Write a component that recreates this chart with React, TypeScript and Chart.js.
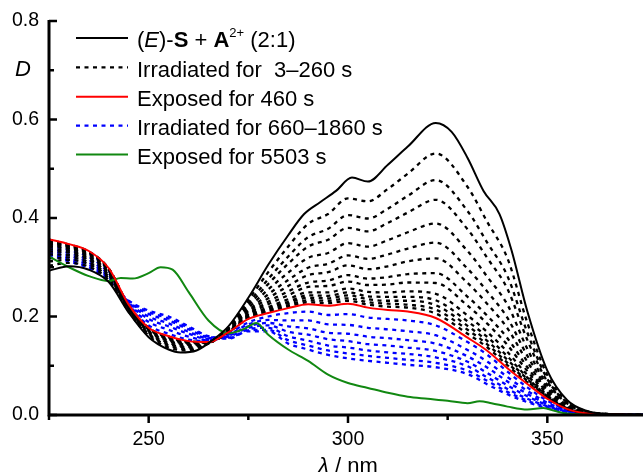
import { useEffect, useRef } from 'react';
import { Chart, registerables } from 'chart.js';

Chart.register(...registerables);

// ---------- data ----------
// shared wavelength grid (nm) for the dotted series and the red series
const WL = [225, 230, 235, 240, 245, 250, 255, 260, 265, 270, 275, 280, 285, 290, 295, 300, 305, 310, 315, 322, 330, 335, 340, 345, 350, 355, 360, 365, 375];

// (E)-S + A2+ (2:1) — initial spectrum
const INIT_WL = [225, 230, 235, 240, 245, 250, 255, 258, 262, 266, 270, 275, 280, 285, 289, 293, 297, 301, 305, 310, 315, 322, 326, 330, 334, 338, 341, 345, 350, 355, 360, 365, 375];
const INIT_D = [0.293, 0.302, 0.295, 0.270, 0.208, 0.158, 0.133, 0.127, 0.131, 0.152, 0.180, 0.238, 0.305, 0.365, 0.408, 0.432, 0.455, 0.482, 0.474, 0.508, 0.545, 0.593, 0.575, 0.522, 0.455, 0.408, 0.335, 0.210, 0.090, 0.030, 0.008, 0.002, 0];

// Irradiated for 3–260 s (black dotted)
const IRR_A1 = [0.303, 0.309, 0.301, 0.274, 0.210, 0.161, 0.137, 0.131, 0.145, 0.178, 0.233, 0.290, 0.342, 0.388, 0.408, 0.440, 0.434, 0.459, 0.490, 0.531, 0.463, 0.391, 0.318, 0.187, 0.081, 0.027, 0.007, 0.002, 0];
const IRR_A2 = [0.312, 0.315, 0.306, 0.278, 0.212, 0.164, 0.141, 0.134, 0.146, 0.176, 0.227, 0.276, 0.322, 0.361, 0.378, 0.406, 0.399, 0.419, 0.445, 0.477, 0.414, 0.349, 0.282, 0.167, 0.073, 0.025, 0.007, 0.002, 0];
const IRR_A3 = [0.318, 0.320, 0.310, 0.281, 0.214, 0.165, 0.144, 0.137, 0.146, 0.175, 0.222, 0.266, 0.307, 0.342, 0.356, 0.380, 0.373, 0.390, 0.411, 0.437, 0.377, 0.318, 0.256, 0.152, 0.068, 0.023, 0.006, 0.002, 0];
const IRR_A4 = [0.326, 0.325, 0.315, 0.284, 0.215, 0.168, 0.147, 0.139, 0.147, 0.174, 0.217, 0.255, 0.289, 0.319, 0.329, 0.349, 0.342, 0.355, 0.371, 0.389, 0.333, 0.280, 0.224, 0.134, 0.061, 0.021, 0.005, 0.001, 0];
const IRR_A5 = [0.332, 0.330, 0.318, 0.287, 0.217, 0.170, 0.150, 0.142, 0.147, 0.173, 0.212, 0.245, 0.274, 0.299, 0.307, 0.324, 0.317, 0.326, 0.338, 0.350, 0.297, 0.250, 0.197, 0.120, 0.055, 0.019, 0.005, 0.001, 0];
const IRR_A6 = [0.337, 0.333, 0.321, 0.289, 0.218, 0.171, 0.152, 0.143, 0.147, 0.172, 0.209, 0.237, 0.262, 0.284, 0.290, 0.304, 0.296, 0.302, 0.312, 0.318, 0.268, 0.225, 0.176, 0.108, 0.050, 0.018, 0.005, 0.001, 0];
const IRR_A7 = [0.342, 0.337, 0.324, 0.292, 0.219, 0.173, 0.154, 0.145, 0.147, 0.171, 0.205, 0.230, 0.251, 0.269, 0.273, 0.284, 0.277, 0.280, 0.286, 0.288, 0.240, 0.201, 0.156, 0.097, 0.046, 0.016, 0.004, 0.001, 0];
const IRR_A8 = [0.346, 0.339, 0.326, 0.293, 0.219, 0.174, 0.155, 0.146, 0.147, 0.170, 0.203, 0.225, 0.243, 0.260, 0.262, 0.271, 0.264, 0.265, 0.269, 0.268, 0.222, 0.185, 0.142, 0.089, 0.043, 0.015, 0.004, 0.001, 0];
const IRR_A9 = [0.349, 0.341, 0.328, 0.295, 0.220, 0.175, 0.157, 0.147, 0.148, 0.169, 0.201, 0.219, 0.235, 0.249, 0.249, 0.257, 0.250, 0.249, 0.251, 0.246, 0.202, 0.168, 0.128, 0.081, 0.040, 0.014, 0.004, 0.001, 0];
const IRR_A10 = [0.351, 0.343, 0.330, 0.295, 0.221, 0.175, 0.158, 0.148, 0.148, 0.169, 0.199, 0.216, 0.230, 0.243, 0.242, 0.249, 0.241, 0.240, 0.240, 0.233, 0.190, 0.158, 0.119, 0.076, 0.038, 0.014, 0.003, 0.001, 0];
const IRR_A11 = [0.353, 0.344, 0.330, 0.296, 0.221, 0.176, 0.158, 0.149, 0.148, 0.169, 0.198, 0.213, 0.227, 0.238, 0.237, 0.243, 0.235, 0.232, 0.232, 0.223, 0.181, 0.150, 0.112, 0.073, 0.037, 0.013, 0.003, 0.001, 0];
const IRR_A12 = [0.354, 0.345, 0.331, 0.297, 0.221, 0.176, 0.159, 0.149, 0.148, 0.169, 0.197, 0.211, 0.223, 0.233, 0.232, 0.237, 0.229, 0.226, 0.224, 0.214, 0.173, 0.143, 0.106, 0.069, 0.035, 0.013, 0.003, 0.001, 0];
const IRR_A13 = [0.356, 0.346, 0.332, 0.297, 0.222, 0.177, 0.159, 0.149, 0.148, 0.168, 0.196, 0.209, 0.220, 0.229, 0.227, 0.232, 0.224, 0.220, 0.218, 0.206, 0.165, 0.137, 0.101, 0.066, 0.034, 0.012, 0.003, 0.001, 0];

// Exposed for 460 s (red)
const EXP_460 = [0.357, 0.347, 0.333, 0.298, 0.224, 0.177, 0.160, 0.150, 0.148, 0.168, 0.195, 0.207, 0.217, 0.225, 0.222, 0.226, 0.218, 0.213, 0.210, 0.197, 0.157, 0.130, 0.095, 0.063, 0.033, 0.012, 0.003, 0.001, 0];

// Irradiated for 660–1860 s (blue dotted)
const IRR_B1 = [0.350, 0.342, 0.328, 0.293, 0.222, 0.182, 0.165, 0.153, 0.150, 0.165, 0.188, 0.200, 0.207, 0.210, 0.203, 0.205, 0.198, 0.195, 0.192, 0.182, 0.148, 0.122, 0.088, 0.056, 0.029, 0.011, 0.003, 0.001, 0];
const IRR_B2 = [0.344, 0.335, 0.321, 0.288, 0.224, 0.189, 0.173, 0.159, 0.152, 0.163, 0.184, 0.193, 0.192, 0.192, 0.184, 0.183, 0.177, 0.174, 0.170, 0.162, 0.132, 0.108, 0.077, 0.049, 0.025, 0.010, 0.003, 0.001, 0];
const IRR_B3 = [0.339, 0.329, 0.315, 0.284, 0.226, 0.195, 0.180, 0.165, 0.154, 0.161, 0.180, 0.187, 0.180, 0.176, 0.167, 0.165, 0.159, 0.156, 0.152, 0.145, 0.119, 0.096, 0.068, 0.043, 0.022, 0.009, 0.003, 0.001, 0];
const IRR_B4 = [0.335, 0.324, 0.310, 0.280, 0.228, 0.200, 0.186, 0.169, 0.156, 0.159, 0.177, 0.182, 0.169, 0.163, 0.154, 0.150, 0.144, 0.141, 0.137, 0.130, 0.108, 0.085, 0.060, 0.038, 0.020, 0.008, 0.002, 0.001, 0];
const IRR_B5 = [0.331, 0.319, 0.305, 0.277, 0.230, 0.205, 0.192, 0.174, 0.158, 0.157, 0.174, 0.177, 0.160, 0.151, 0.141, 0.137, 0.131, 0.127, 0.124, 0.117, 0.099, 0.076, 0.053, 0.033, 0.018, 0.007, 0.002, 0.001, 0];
const IRR_B6 = [0.328, 0.315, 0.301, 0.274, 0.231, 0.209, 0.196, 0.177, 0.159, 0.156, 0.172, 0.173, 0.152, 0.141, 0.131, 0.125, 0.120, 0.116, 0.112, 0.106, 0.090, 0.069, 0.047, 0.029, 0.016, 0.007, 0.002, 0.001, 0];
const IRR_B7 = [0.325, 0.312, 0.298, 0.272, 0.232, 0.212, 0.200, 0.180, 0.160, 0.155, 0.170, 0.170, 0.145, 0.133, 0.122, 0.115, 0.110, 0.106, 0.102, 0.097, 0.083, 0.062, 0.042, 0.026, 0.014, 0.006, 0.002, 0.001, 0];

// Exposed for 5503 s (green)
const EXP5503_WL = [225, 230, 235, 240, 243, 246, 250, 253, 256, 260, 265, 270, 274, 277, 280, 285, 290, 295, 300, 305, 310, 315, 320, 325, 330, 333, 336, 340, 345, 349, 352, 355, 360, 365, 375];
const EXP_5503 = [0.322, 0.300, 0.282, 0.272, 0.278, 0.277, 0.288, 0.300, 0.295, 0.250, 0.192, 0.166, 0.175, 0.187, 0.163, 0.133, 0.110, 0.082, 0.065, 0.055, 0.045, 0.037, 0.033, 0.029, 0.024, 0.028, 0.024, 0.017, 0.011, 0.014, 0.008, 0.003, 0.001, 0, 0];

const IRR_A = [IRR_A1, IRR_A2, IRR_A3, IRR_A4, IRR_A5, IRR_A6, IRR_A7, IRR_A8, IRR_A9, IRR_A10, IRR_A11, IRR_A12, IRR_A13];
const IRR_B = [IRR_B1, IRR_B2, IRR_B3, IRR_B4, IRR_B5, IRR_B6, IRR_B7];

const X_MIN = 225;
const X_MAX = 374;
const Y_MIN = 0;
const Y_MAX = 0.8;
const X_MAJOR = [250, 300, 350];
const X_MINOR = [225, 275, 325];
const Y_MAJOR = [0, 0.2, 0.4, 0.6, 0.8];
const Y_MINOR = [0.1, 0.3, 0.5, 0.7];

const BLACK = '#000000';
const RED = '#ff0000';
const BLUE = '#0000ff';
const GREEN = '#118811';
const FONT = '"Liberation Sans", Arial, Helvetica, sans-serif';

const pts = (xs: number[], ys: number[]) => xs.map((x, i) => ({ x, y: ys[i] }));

const DOT = [4, 4.5];

const LEGEND = [
  { color: BLACK, dash: [] as number[], rich: true, text: '' },
  { color: BLACK, dash: DOT, rich: false, text: 'Irradiated for  3\u2013260 s' },
  { color: RED, dash: [] as number[], rich: false, text: 'Exposed for 460 s' },
  { color: BLUE, dash: DOT, rich: false, text: 'Irradiated for 660\u20131860 s' },
  { color: GREEN, dash: [] as number[], rich: false, text: 'Exposed for 5503 s' },
];

const axesPlugin = {
  id: 'customAxes',
  afterDraw(chart: any) {
    const { ctx, chartArea: ca, scales } = chart;
    const xs = scales.x;
    const ys = scales.y;
    ctx.save();
    ctx.strokeStyle = '#000';
    ctx.fillStyle = '#000';
    ctx.lineCap = 'butt';

    // axis lines
    ctx.lineWidth = 3;
    ctx.beginPath();
    ctx.moveTo(ca.left, ys.getPixelForValue(Y_MAX) - 1);
    ctx.lineTo(ca.left, ca.bottom);
    ctx.lineTo(ca.right + 2, ca.bottom);
    ctx.stroke();

    // ticks
    ctx.lineWidth = 2.5;
    const seg = (x1: number, y1: number, x2: number, y2: number) => {
      ctx.beginPath();
      ctx.moveTo(x1, y1);
      ctx.lineTo(x2, y2);
      ctx.stroke();
    };
    Y_MAJOR.forEach((v) => {
      const py = ys.getPixelForValue(v);
      seg(ca.left, py, ca.left + 8, py);
    });
    Y_MINOR.forEach((v) => {
      const py = ys.getPixelForValue(v);
      seg(ca.left, py, ca.left + 5, py);
    });
    X_MAJOR.forEach((v) => {
      const px = xs.getPixelForValue(v);
      seg(px, ca.bottom, px, ca.bottom + 8);
    });
    X_MINOR.forEach((v) => {
      const px = xs.getPixelForValue(v);
      seg(px, ca.bottom, px, ca.bottom + 5);
    });

    // tick labels
    ctx.font = `19.5px ${FONT}`;
    ctx.textAlign = 'right';
    ctx.textBaseline = 'middle';
    Y_MAJOR.forEach((v) => {
      ctx.fillText(v.toFixed(1), 39, ys.getPixelForValue(v));
    });
    ctx.textAlign = 'center';
    X_MAJOR.forEach((v) => {
      ctx.fillText(String(v), xs.getPixelForValue(v), 440);
    });

    // axis titles
    ctx.textBaseline = 'alphabetic';
    ctx.textAlign = 'left';
    ctx.font = `italic 22px ${FONT}`;
    ctx.fillText('D', 15, 76);
    let tx = 318;
    ctx.fillText('\u03bb', tx, 473);
    tx += ctx.measureText('\u03bb').width;
    ctx.font = `22px ${FONT}`;
    ctx.fillText(' / nm', tx, 473);

    // legend
    const rowY = [38, 67.3, 96.7, 125.7, 154.5];
    LEGEND.forEach((item, i) => {
      const ly = rowY[i];
      ctx.save();
      ctx.strokeStyle = item.color;
      ctx.lineWidth = item.dash.length ? 2.3 : 2;
      ctx.setLineDash(item.dash);
      ctx.beginPath();
      ctx.moveTo(76, ly);
      ctx.lineTo(128, ly);
      ctx.stroke();
      ctx.restore();
      const base = ly + 9.2;
      let x = 137;
      if (item.rich) {
        const parts: [string, string, number][] = [
          ['(', `22px ${FONT}`, 0],
          ['E', `italic 22px ${FONT}`, 0],
          [')-', `22px ${FONT}`, 0],
          ['S', `bold 22px ${FONT}`, 0],
          [' + ', `22px ${FONT}`, 0],
          ['A', `bold 22px ${FONT}`, 0],
          ['2+', `13px ${FONT}`, -10],
          [' (2:1)', `22px ${FONT}`, 0],
        ];
        parts.forEach(([t, f, dy]) => {
          ctx.font = f;
          ctx.fillText(t, x, base + dy);
          x += ctx.measureText(t).width;
        });
      } else {
        ctx.font = `22px ${FONT}`;
        ctx.fillText(item.text, x, base);
      }
    });
    ctx.restore();
  },
};

export default function App() {
  const ref = useRef<HTMLCanvasElement>(null);
  useEffect(() => {
    document.body.style.margin = '0';
    const solid = (label: string, xs: number[], ys: number[], color: string, order: number) => ({
      label,
      data: pts(xs, ys),
      borderColor: color,
      backgroundColor: color,
      borderWidth: 2,
      fill: false,
      order,
    });
    const dotted = (label: string, ys: number[], color: string, order: number) => ({
      label,
      data: pts(WL, ys),
      borderColor: color,
      backgroundColor: color,
      borderWidth: 2.3,
      borderDash: DOT,
      fill: false,
      order,
    });
    const datasets: any[] = [
      solid('(E)-S + A2+ (2:1)', INIT_WL, INIT_D, BLACK, 0),
      solid('Exposed for 460 s', WL, EXP_460, RED, 1),
      solid('Exposed for 5503 s', EXP5503_WL, EXP_5503, GREEN, 2),
      ...IRR_A.map((a, i) => dotted(`Irradiated ${i + 1}`, a, BLACK, 3)),
      ...IRR_B.map((b, i) => dotted(`Irradiated B ${i + 1}`, b, BLUE, 4)),
    ];
    const chart = new Chart(ref.current as HTMLCanvasElement, {
      type: 'line',
      data: { datasets },
      options: {
        responsive: false,
        animation: false,
        devicePixelRatio: 1,
        layout: { padding: { left: 49, right: 0, top: 21, bottom: 57 } },
        elements: {
          point: { radius: 0, hoverRadius: 0 },
          line: { cubicInterpolationMode: 'monotone', borderCapStyle: 'butt' },
        },
        scales: {
          x: { type: 'linear', min: X_MIN, max: X_MAX, display: false },
          y: { type: 'linear', min: Y_MIN, max: Y_MAX, display: false },
        },
        plugins: { legend: { display: false }, tooltip: { enabled: false } },
      },
      plugins: [axesPlugin],
    });
    return () => chart.destroy();
  }, []);
  return (
    <div style={{ width: 643, height: 472, background: '#fff' }}>
      <canvas ref={ref} width={643} height={472} style={{ display: 'block' }} />
    </div>
  );
}
